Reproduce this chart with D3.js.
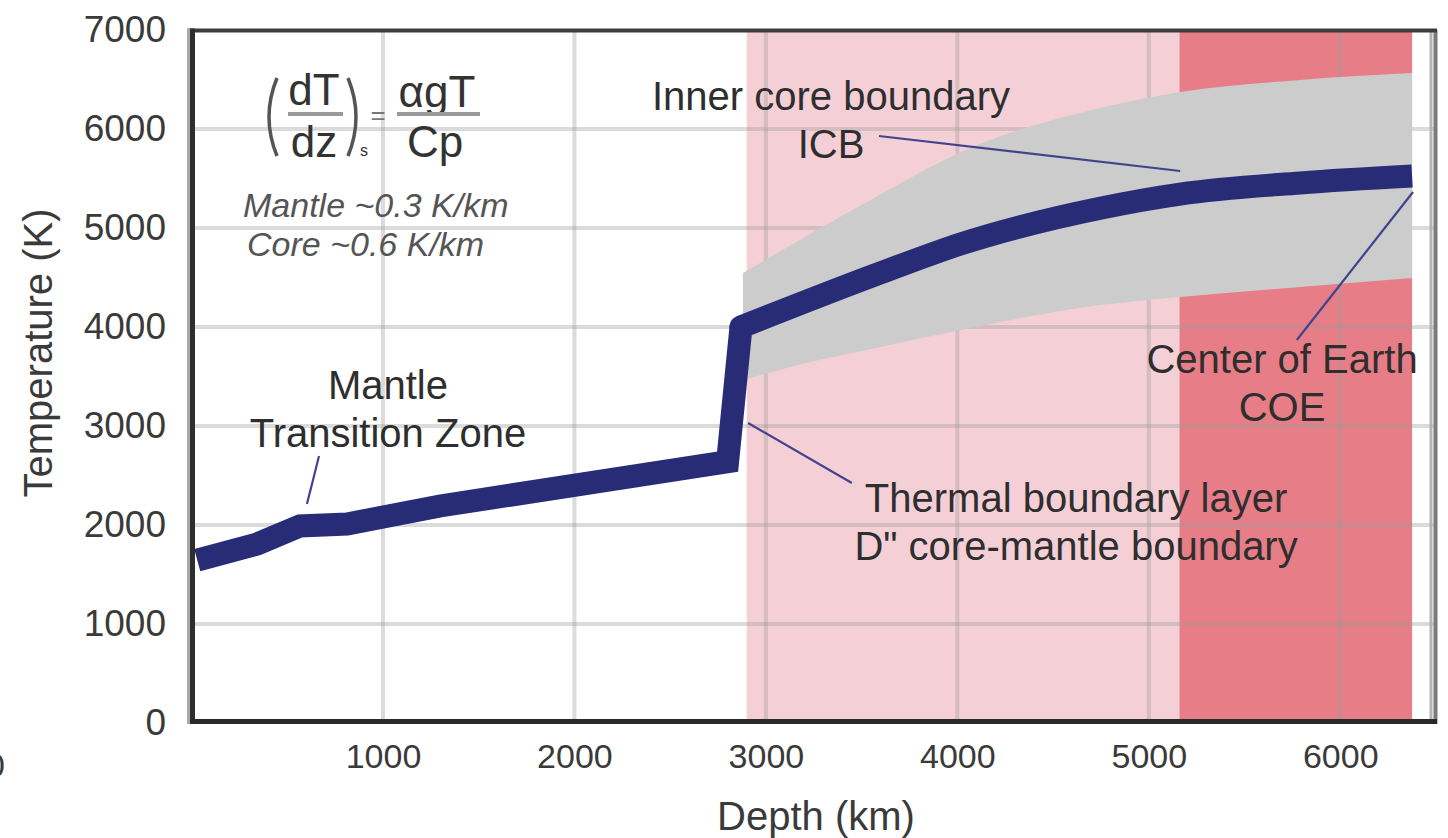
<!DOCTYPE html>
<html>
<head>
<meta charset="utf-8">
<script src="https://cdn.jsdelivr.net/npm/d3@7"></script>
<style>
  body { margin: 0; background: #fff; }
  svg { display: block; font-family: "Liberation Sans", Arial, sans-serif; }
</style>
</head>
<body>
<div id="chart"></div>
<script>
// depth (km) / temperature (K)
const xTicks = [1000, 2000, 3000, 4000, 5000, 6000];
const yTicks = [0, 1000, 2000, 3000, 4000, 5000, 6000, 7000];
const gridY = [1000, 2000, 3000, 4000, 5000, 6000];

// mantle part (straight pieces) up to the top of the CMB jump
const mantleGeotherm = [
  [30, 1645], [342, 1808], [567, 1990], [812, 2010], [1298, 2192],
  [2800, 2640], [2870, 4000]
];
// core part (smooth)
const coreGeotherm = [
  [2870, 4000], [3597, 4545], [4019, 4840], [4746, 5200],
  [5164, 5343], [5790, 5455], [6375, 5525]
];
const bandDepth = [2880, 3178, 3600, 4019, 4746, 5164, 5790, 6375];
const bandHigh = [4545, 4880, 5340, 5768, 6212, 6374, 6495, 6565];
const bandLow = [3465, 3620, 3798, 3970, 4222, 4303, 4404, 4495];

// outer core / inner core shading
const zones = [
  { name: "outer core", from: 2900, to: 5160 },
  { name: "inner core", from: 5160, to: 6375 }
];

const labels = [
  { lines: ["Inner core boundary", "ICB"], km: 3340, K: 6192 },
  { lines: ["Center of Earth", "COE"], km: 5696, K: 3535 },
  { lines: ["Thermal boundary layer", "D\" core-mantle boundary"], km: 4620, K: 2131 },
  { lines: ["Mantle", "Transition Zone"], km: 1026, K: 3273 }
];
const leaders = [
  [[3591, 5929], [5164, 5576]],
  [[5773, 3869], [6380, 5364]],
  [[2907, 3030], [3449, 2424]],
  [[666, 2697], [603, 2212]]
];

var w = 1448;
var h = 838;

var x = d3.scaleLinear().domain([0, 6500]).range([191.5, 1436]);
var y = d3.scaleLinear().domain([0, 7000]).range([723, 30]);

var svg = d3.select("#chart").append("svg")
  .attr("width", w)
  .attr("height", h);

// shaded core regions
svg.selectAll("rect.zone")
  .data(zones)
  .enter()
  .append("rect")
  .attr("class", "zone")
  .attr("x", d => x(d.from))
  .attr("y", y(7000))
  .attr("width", d => x(d.to) - x(d.from))
  .attr("height", y(0) - y(7000))
  .attr("fill", (d, i) => i === 0 ? "#f4cfd6" : "#e77d86");

// grid
var grid = svg.append("g").attr("stroke", "#9a9a9a").attr("stroke-opacity", 0.36).attr("stroke-width", 4);
grid.selectAll("line.vx")
  .data(xTicks)
  .enter()
  .append("line")
  .attr("x1", d => x(d)).attr("x2", d => x(d))
  .attr("y1", y(7000)).attr("y2", y(0));
grid.selectAll("line.hy")
  .data(gridY)
  .enter()
  .append("line")
  .attr("x1", x(0)).attr("x2", x(6500))
  .attr("y1", d => y(d)).attr("y2", d => y(d));

// uncertainty band
var band = bandDepth.map((d, i) => ({ km: d, hi: bandHigh[i], lo: bandLow[i] }));
var area = d3.area()
  .x(d => x(d.km))
  .y0(d => y(d.lo))
  .y1(d => y(d.hi))
  .curve(d3.curveMonotoneX);
svg.append("path")
  .datum(band)
  .attr("d", area)
  .attr("fill", "#cccccc");

// geotherm
var lineStraight = d3.line()
  .x(d => x(d[0]))
  .y(d => y(d[1]));
var lineSmooth = d3.line()
  .x(d => x(d[0]))
  .y(d => y(d[1]))
  .curve(d3.curveMonotoneX);
svg.append("path")
  .datum(coreGeotherm)
  .attr("d", lineSmooth)
  .attr("fill", "none")
  .attr("stroke", "#282c77")
  .attr("stroke-width", 23);
// fill the corner where the two pieces meet
svg.append("circle")
  .attr("cx", x(coreGeotherm[0][0]))
  .attr("cy", y(coreGeotherm[0][1]))
  .attr("r", 11.5)
  .attr("fill", "#282c77");
svg.append("path")
  .datum(mantleGeotherm)
  .attr("d", lineStraight)
  .attr("fill", "none")
  .attr("stroke", "#282c77")
  .attr("stroke-width", 23)
  .attr("stroke-linejoin", "miter");

// leader lines
svg.selectAll("line.leader")
  .data(leaders)
  .enter()
  .append("line")
  .attr("class", "leader")
  .attr("x1", d => x(d[0][0])).attr("y1", d => y(d[0][1]))
  .attr("x2", d => x(d[1][0])).attr("y2", d => y(d[1][1]))
  .attr("stroke", "#40448e")
  .attr("stroke-width", 2.2);

// frame
svg.append("line").attr("x1", 188.5).attr("x2", 188.5).attr("y1", 28).attr("y2", 724)
  .attr("stroke", "#aaaaaa").attr("stroke-width", 3);
svg.append("line").attr("x1", 1431).attr("x2", 1431).attr("y1", 30).attr("y2", 724)
  .attr("stroke", "#b4b4b4").attr("stroke-width", 3);
svg.append("line").attr("x1", 1435.5).attr("x2", 1435.5).attr("y1", 30).attr("y2", 724)
  .attr("stroke", "#7a7a7a").attr("stroke-width", 4);
svg.append("line").attr("x1", 190).attr("x2", 1437).attr("y1", 30.5).attr("y2", 30.5)
  .attr("stroke", "#3c3c3c").attr("stroke-width", 4);
svg.append("line").attr("x1", 192.5).attr("x2", 192.5).attr("y1", 28.5).attr("y2", 724)
  .attr("stroke", "#2e2e2e").attr("stroke-width", 5);
svg.append("line").attr("x1", 190).attr("x2", 1437).attr("y1", 721.5).attr("y2", 721.5)
  .attr("stroke", "#2a2a2a").attr("stroke-width", 5);

// axes
var yAxis = d3.axisLeft(y).tickValues(yTicks).tickSize(0).tickPadding(0).tickFormat(d3.format("d"));
var gy = svg.append("g").attr("transform", "translate(166,0)").call(yAxis);
gy.select(".domain").remove();
gy.selectAll("text").attr("font-size", 37).attr("fill", "#3a3a3a")
  .attr("font-family", "Liberation Sans, Arial, sans-serif");

var xAxis = d3.axisBottom(x).tickValues(xTicks).tickSize(0).tickPadding(0).tickFormat(d3.format("d"));
var gx = svg.append("g").attr("transform", "translate(0,744)").call(xAxis);
gx.select(".domain").remove();
gx.selectAll("text").attr("font-size", 34).attr("fill", "#3a3a3a")
  .attr("font-family", "Liberation Sans, Arial, sans-serif");

// stray cropped zero at the left edge
svg.append("text").attr("x", -14).attr("y", 777).attr("font-size", 34)
  .attr("fill", "#3a3a3a").text("0");

svg.append("text")
  .attr("transform", "translate(52,353) rotate(-90)")
  .attr("text-anchor", "middle")
  .attr("font-size", 40)
  .attr("fill", "#3a3a3a")
  .text("Temperature (K)");

svg.append("text")
  .attr("x", 816).attr("y", 830)
  .attr("text-anchor", "middle")
  .attr("font-size", 40)
  .attr("fill", "#3a3a3a")
  .text("Depth (km)");

// annotations
labels.forEach(l => {
  var t = svg.append("text")
    .attr("text-anchor", "middle")
    .attr("font-size", 40)
    .attr("fill", "#2e2e2e");
  l.lines.forEach((s, i) => {
    t.append("tspan").attr("x", x(l.km)).attr("y", y(l.K) + i * 48).text(s);
  });
});

// formula
var f = svg.append("g").attr("fill", "#333");
f.append("path").attr("d", "M277,78 Q261,117 277,156").attr("fill", "none").attr("stroke", "#555").attr("stroke-width", 3.5);
f.append("path").attr("d", "M348,78 Q364,117 348,156").attr("fill", "none").attr("stroke", "#555").attr("stroke-width", 3.5);
f.append("text").attr("x", 314).attr("y", 105).attr("text-anchor", "middle").attr("font-size", 44).text("dT");
f.append("text").attr("x", 314).attr("y", 157).attr("text-anchor", "middle").attr("font-size", 44).text("dz");
f.append("line").attr("x1", 288).attr("x2", 343).attr("y1", 114).attr("y2", 114).attr("stroke", "#999").attr("stroke-width", 4);
f.append("text").attr("x", 360).attr("y", 156).attr("font-size", 16).text("s");
f.append("text").attr("x", 378).attr("y", 124).attr("text-anchor", "middle").attr("font-size", 26).attr("fill", "#777").text("=");
f.append("text").attr("x", 437).attr("y", 107).attr("text-anchor", "middle").attr("font-size", 44).text("αgT");
f.append("line").attr("x1", 397).attr("x2", 480).attr("y1", 114).attr("y2", 114).attr("stroke", "#999").attr("stroke-width", 4);
f.append("text").attr("x", 435).attr("y", 157).attr("text-anchor", "middle").attr("font-size", 44).text("Cp");
f.append("text").attr("x", 243).attr("y", 217).attr("font-size", 34).attr("font-style", "italic").attr("fill", "#555").text("Mantle ~0.3 K/km");
f.append("text").attr("x", 247).attr("y", 256).attr("font-size", 34).attr("font-style", "italic").attr("fill", "#555").text("Core ~0.6 K/km");
</script>
</body>
</html>
